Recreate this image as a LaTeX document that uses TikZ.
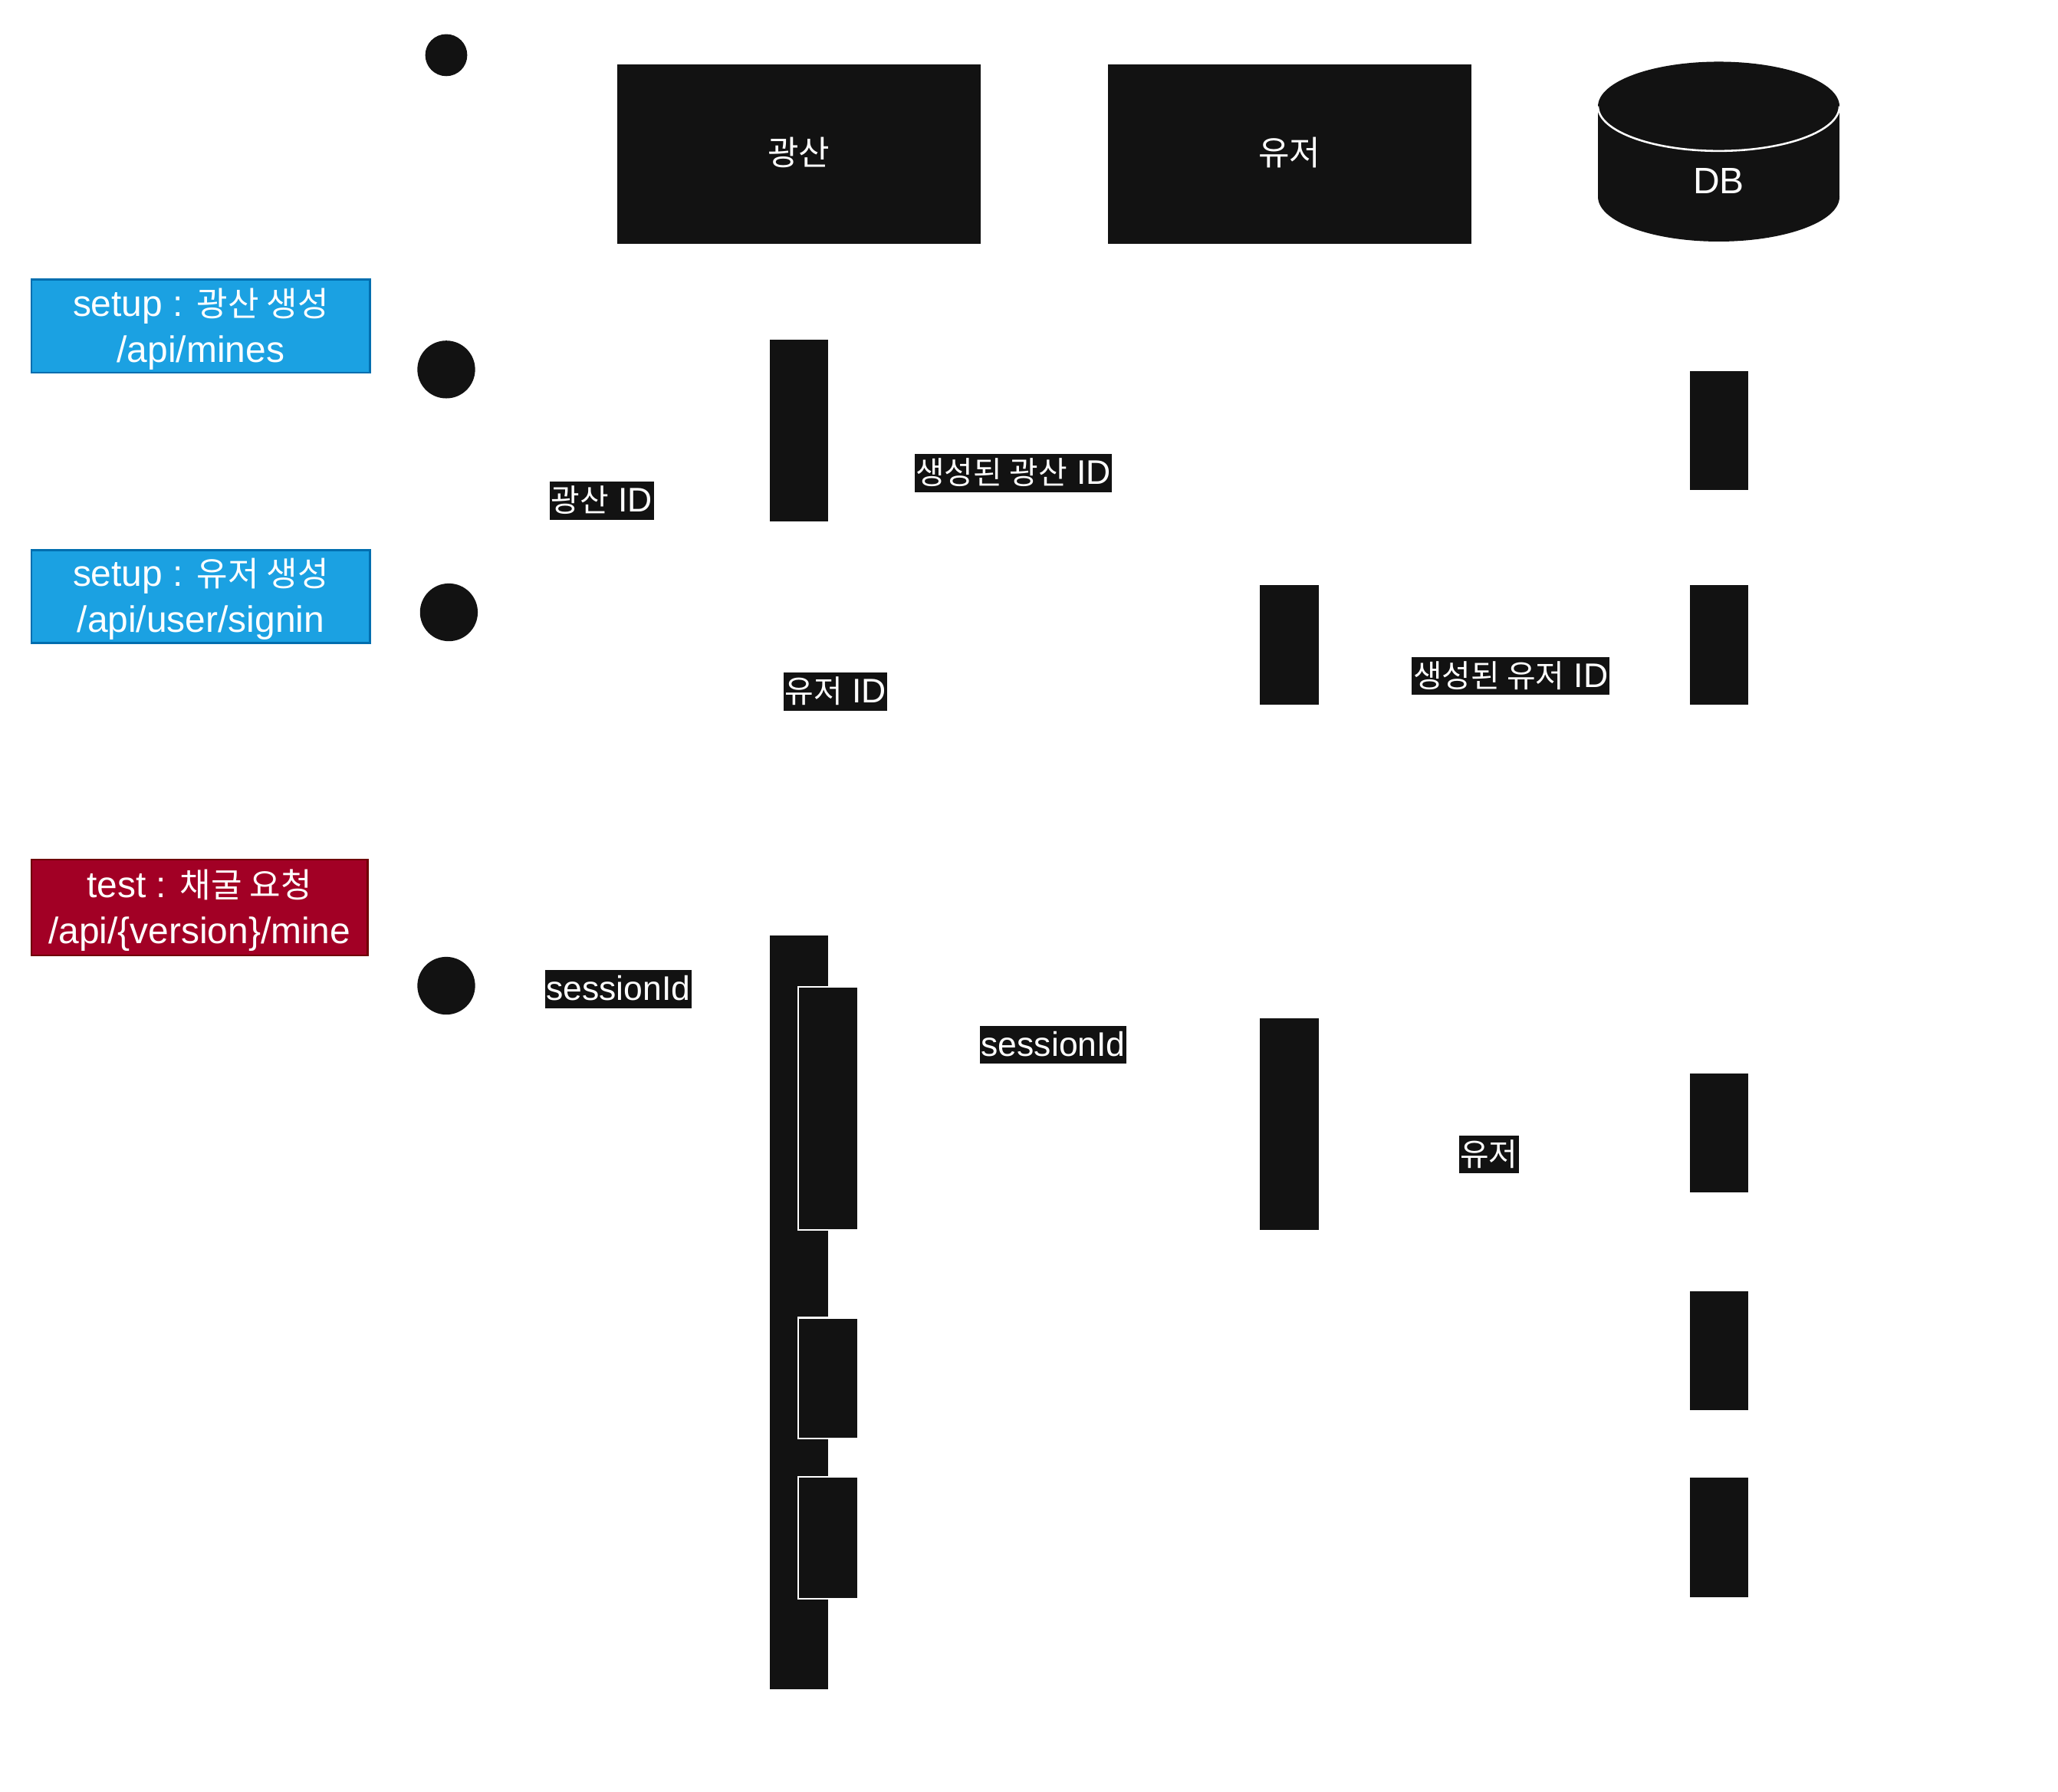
\documentclass[tikz,border=0pt]{standalone}
\usepackage{fontspec}
\setmainfont{Liberation Sans}
\newfontfamily\kr[Scale=0.92]{Noto Sans CJK KR}
\definecolor{blk}{HTML}{121212}
\definecolor{bluefill}{HTML}{1BA1E2}
\definecolor{blueline}{HTML}{006EAF}
\definecolor{redfill}{HTML}{A20025}
\definecolor{redline}{HTML}{6F0000}
\tikzset{
  actorbox/.style={fill=blk, draw=none, inner sep=0pt, text=white, font=\fontsize{28}{34}\selectfont},
  bar/.style={fill=blk, draw=none, inner sep=0pt},
  nestedbar/.style={fill=blk, draw=white, line width=1.3pt, inner sep=0pt},
  startdot/.style={circle, fill=blk, draw=none, inner sep=0pt},
  notebox/.style={line width=1.5pt, inner sep=0pt},
  notetext/.style={inner sep=0pt, text=white, align=center, font=\fontsize{28}{35}\selectfont},
  msglabel/.style={fill=blk, text=white, inner xsep=1pt, inner ysep=0pt, text height=23pt, text depth=6pt, font=\fontsize{26}{30}\selectfont}
}
\begin{document}
\begin{tikzpicture}[x=1pt,y=-1pt]
\useasboundingbox[fill=white] (0,0) rectangle (1568,1365);

% actors
\node[startdot, minimum size=32] (s1) at (340,42) {};
\node[actorbox, minimum width=277, minimum height=137] (mine) at (608.5,117.5) {};
\node[text=white, inner sep=0pt, font=\fontsize{28}{34}\selectfont] (minet) at ([yshift=1.5pt]mine.center) {\kr 광산};
\node[actorbox, minimum width=277, minimum height=137] (user) at (982.5,117.5) {};
\node[text=white, inner sep=0pt, font=\fontsize{28}{34}\selectfont] (usert) at ([yshift=1.5pt]user.center) {\kr 유저};
% DB cylinder
\fill[blk] (1309.5,150) ellipse[x radius=92, y radius=34];
\fill[blk] (1217.5,81) rectangle (1401.5,150);
\fill[blk] (1309.5,81) ellipse[x radius=92, y radius=34];
\draw[white, line width=1.5pt] (1217.5,81) arc[start angle=180, end angle=0, x radius=92, y radius=34];
\node[text=white, font=\fontsize{28}{34}\selectfont, inner sep=0pt] (db) at (1309.5,138) {DB};

% notes
\node[notebox, fill=bluefill, draw=blueline, minimum width=258, minimum height=71] (n1) at (153,248.5) {};
\node[notetext] (n1t) at ([yshift=-2pt]n1.center) {setup : {\kr 광산 생성}\\/api/mines};
\node[notebox, fill=bluefill, draw=blueline, minimum width=258, minimum height=71] (n2) at (153,454.5) {};
\node[notetext] (n2t) at ([yshift=-2pt]n2.center) {setup : {\kr 유저 생성}\\/api/user/signin};
\node[notebox, fill=redfill, draw=redline, minimum width=256, minimum height=73] (n3) at (152,691.5) {};
\node[notetext] (n3t) at ([yshift=-2pt]n3.center) {test : {\kr 채굴 요청}\\/api/\{version\}/mine};

% start dots
\node[startdot, minimum size=44] (s2) at (340,281.5) {};
\node[startdot, minimum size=44] (s3) at (342,466.5) {};
\node[startdot, minimum size=44] (s4) at (340,751) {};

% activation bars - setup 1
\node[bar, minimum width=44.5, minimum height=138] (mb1) at (608.75,328) {};
\node[bar, minimum width=44.5, minimum height=90.5] (db1) at (1309.75,328.25) {};
% setup 2
\node[bar, minimum width=45, minimum height=91] (ub1) at (982.5,491.5) {};
\node[bar, minimum width=44.5, minimum height=91] (db2) at (1309.75,491.5) {};
% test
\node[bar, minimum width=44.5, minimum height=574] (mb2) at (608.75,1000) {};
\node[nestedbar, minimum width=46, minimum height=185] (nb1) at (631,844.5) {};
\node[nestedbar, minimum width=46, minimum height=92] (nb2) at (631,1050) {};
\node[nestedbar, minimum width=46, minimum height=93] (nb3) at (631,1171.5) {};
\node[bar, minimum width=45, minimum height=161] (ub2) at (982.5,856.5) {};
\node[bar, minimum width=44.5, minimum height=90.5] (db3) at (1309.75,863.25) {};
\node[bar, minimum width=44.5, minimum height=90.5] (db4) at (1309.75,1029.25) {};
\node[bar, minimum width=44.5, minimum height=91] (db5) at (1309.75,1171.5) {};

% message labels
\node[msglabel] (l1) at (458.5,381.5) {{\kr 광산} ID};
\node[msglabel] (l2) at (772,360.5) {{\kr 생성된 광산} ID};
\node[msglabel] (l3) at (636.5,527) {{\kr 유저} ID};
\node[msglabel] (l4) at (1151,515) {{\kr 생성된 유저} ID};
\node[msglabel] (l5) at (471,753.5) {sessionId};
\node[msglabel] (l6) at (802.5,796) {sessionId};
\node[msglabel] (l7) at (1134.5,879.5) {\kr 유저};
\end{tikzpicture}
\end{document}
